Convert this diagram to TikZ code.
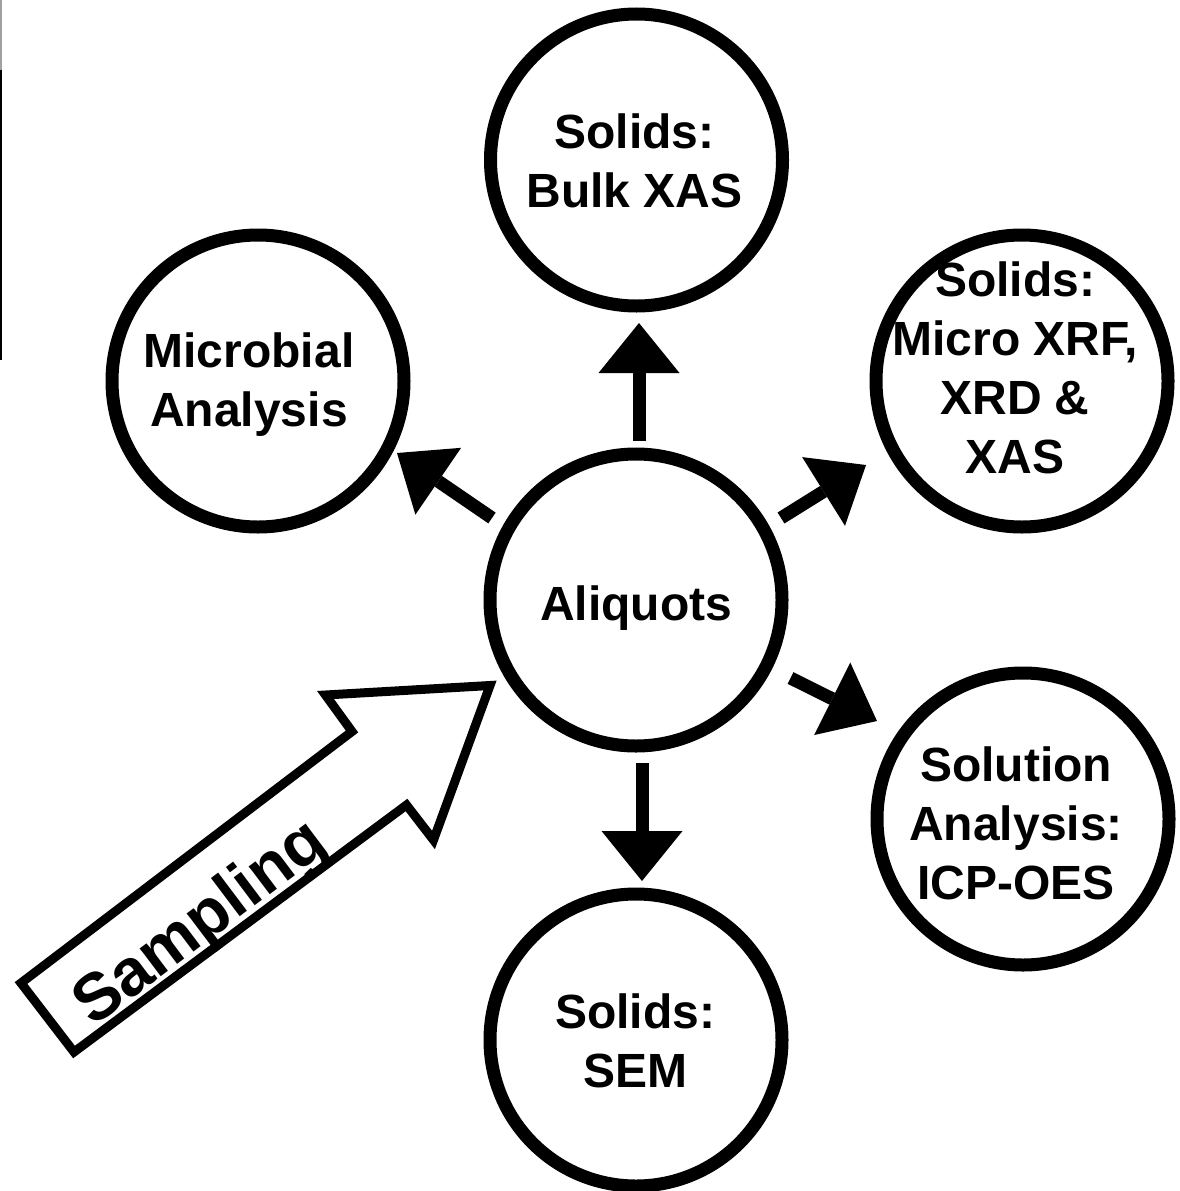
\documentclass[tikz,border=0pt]{standalone}
\usepackage{fontspec}
\setmainfont{Liberation Sans}
\usetikzlibrary{arrows.meta}
\begin{document}
\begin{tikzpicture}[x=1pt,y=-1pt,
  bubble/.style={circle,draw=black,line width=13pt,minimum size=292pt,inner sep=0pt,fill=white},
  lbl/.style={anchor=north,inner sep=0pt,align=center,font=\fontsize{48}{59}\selectfont\bfseries},
  conn/.style={line width=13pt,-{Triangle[length=50pt,width=81pt,line width=0pt]}},
  bigarrow/.style={draw=black,line width=9pt,line join=miter,fill=white}]
\useasboundingbox (0,0) rectangle (1179,1191);
% left edge marks
\draw[line width=2.3pt,draw={rgb,255:red,160;green,160;blue,160}] (1.2,0) -- (1.2,70);
\draw[line width=2.3pt,black] (1.2,70) -- (1.2,360);
% circles
\node[bubble] (bulk) at (636.5,160) {};
\node[bubble] (mic) at (258,381) {};
\node[bubble] (micro) at (1022,381) {};
\node[bubble] (ali) at (636,600) {};
\node[bubble] (sol) at (1023,819) {};
\node[bubble] (sem) at (636,1040) {};
% texts
\node[lbl] (bulkT) at (634.5,114) {Solids:\\Bulk XAS};
\node[lbl] (micT) at (249,333) {Microbial\\Analysis};
\node[lbl] (microT) at (1015,262) {Solids:\\Micro XRF,\\XRD \&\\XAS};
\node[anchor=base,inner sep=0pt,font=\fontsize{48}{59}\selectfont\bfseries] (aliT) at (636,620) {Aliquots};
\node[lbl] (solT) at (1016,747) {Solution\\Analysis:\\ICP-OES};
\node[lbl] (semT) at (635,994) {Solids:\\SEM};
% connector ends
\coordinate (upS) at (639,441);  \coordinate (upE) at (639,323);
\coordinate (dnS) at (642,763);  \coordinate (dnE) at (642,881);
\coordinate (ulS) at (492,518);  \coordinate (ulE) at (397,453);
\coordinate (urS) at (781,518);  \coordinate (urE) at (866,465);
\coordinate (lrS) at (790.5,678); \coordinate (lrE) at (877,721);
\draw[conn] (upS) -- (upE);
\draw[conn] (dnS) -- (dnE);
\draw[conn] (ulS) -- (ulE);
\draw[conn] (urS) -- (urE);
\draw[conn] (lrS) -- (lrE);
% sampling arrow
\draw[bigarrow] (21,983) -- (74,1052) -- (406.5,805) -- (433.5,840) -- (490,685.5) -- (325.5,695) -- (352,731.5) -- cycle;
\node[anchor=base west,rotate=37,inner sep=0pt,font=\fontsize{66}{72}\selectfont\bfseries] (samp) at (93,1028) {Sampling};
\end{tikzpicture}
\end{document}
